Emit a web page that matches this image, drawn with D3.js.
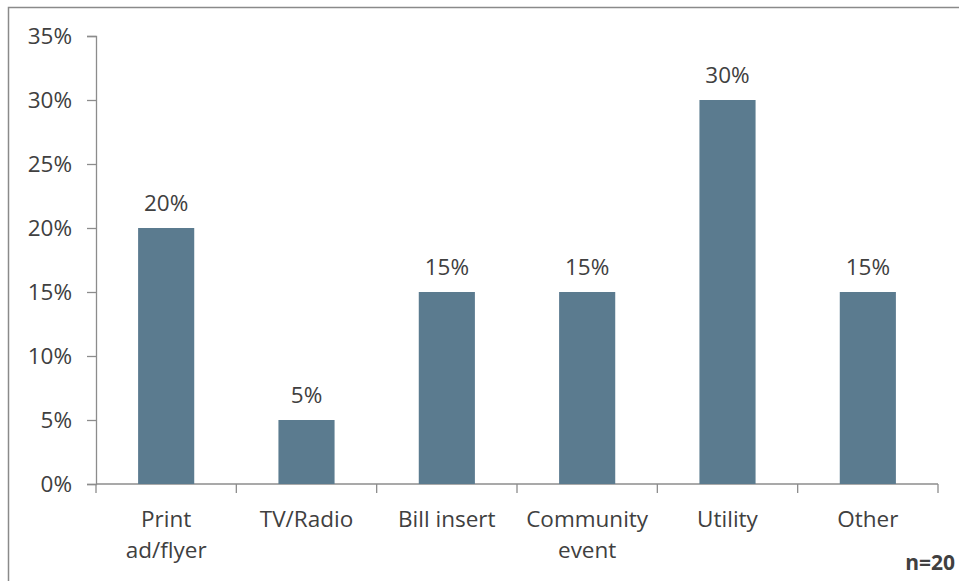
<!DOCTYPE html>
<html>
<head>
<meta charset="utf-8">
<script src="https://cdn.jsdelivr.net/npm/d3@7"></script>
<style>
  html, body { margin: 0; padding: 0; background: #fff; }
  svg { display: block; }
  text { font-family: "Open Sans", "Noto Sans", sans-serif; fill: #404040; }
</style>
</head>
<body>
<svg id="chart" width="959" height="581"></svg>
<script>
// Source of awareness, share of respondents
const categories = [["Print", "ad/flyer"], ["TV/Radio"], ["Bill insert"], ["Community", "event"], ["Utility"], ["Other"]];
const values = [0.20, 0.05, 0.15, 0.15, 0.30, 0.15];
const yTicks = [0, 0.05, 0.10, 0.15, 0.20, 0.25, 0.30, 0.35];
const sampleNote = "n=20";

const svg = d3.select("#chart");
const W = 959, H = 581;
const plot = { left: 96, right: 938, top: 36, bottom: 484 };
const barColor = "#5b7b8f";
const axisColor = "#8c8c8c";
const fontSize = 22.5;

// Outer chart frame
svg.append("rect")
  .attr("x", 8.5).attr("y", 7.5)
  .attr("width", W + 10).attr("height", H + 10)
  .attr("fill", "none").attr("stroke", "#8a8a8a").attr("stroke-width", 1.5);

const keys = categories.map((c, i) => i);
const x = d3.scaleBand().domain(keys).range([plot.left, plot.right])
  .paddingInner(0.6).paddingOuter(0.3);
const step = x.step();
const y = d3.scaleLinear().domain([0, 0.35]).range([plot.bottom, plot.top]);

// Y axis
const yAxis = d3.axisLeft(y).tickValues(yTicks).tickFormat(d3.format(".0%")).tickSize(9).tickPadding(15);
const gy = svg.append("g").attr("transform", `translate(${plot.left},0)`).call(yAxis);
gy.select(".domain").attr("stroke", axisColor).attr("stroke-width", 1.3);
gy.selectAll(".tick line").attr("stroke", axisColor).attr("stroke-width", 1.3);
gy.selectAll(".tick text").attr("font-size", fontSize).attr("font-family", "Open Sans").attr("fill", "#404040");

// X axis baseline with category boundary ticks
const boundaries = d3.range(categories.length + 1).map(i => plot.left + i * step);
svg.append("line")
  .attr("x1", plot.left).attr("x2", plot.right)
  .attr("y1", y(0)).attr("y2", y(0))
  .attr("stroke", axisColor).attr("stroke-width", 1.3);
svg.append("g").selectAll("line").data(boundaries).join("line")
  .attr("x1", d => d).attr("x2", d => d)
  .attr("y1", y(0)).attr("y2", y(0) + 9)
  .attr("stroke", axisColor).attr("stroke-width", 1.3);

// Bars
svg.append("g").selectAll("rect").data(values).join("rect")
  .attr("x", (d, i) => x(i))
  .attr("y", d => y(d))
  .attr("width", x.bandwidth())
  .attr("height", d => y(0) - y(d))
  .attr("fill", barColor);

// Value labels
svg.append("g").selectAll("text").data(values).join("text")
  .attr("x", (d, i) => x(i) + x.bandwidth() / 2)
  .attr("y", d => y(d) - 17)
  .attr("text-anchor", "middle")
  .attr("font-size", fontSize)
  .text(d => d3.format(".0%")(d));

// Category labels (wrapped)
const catG = svg.append("g").selectAll("text").data(categories).join("text")
  .attr("text-anchor", "middle")
  .attr("font-size", fontSize);
catG.each(function (lines, i) {
  const t = d3.select(this);
  lines.forEach((ln, j) => {
    t.append("tspan")
      .attr("x", x(i) + x.bandwidth() / 2)
      .attr("y", 527 + j * 31)
      .text(ln);
  });
});

// Sample size note
svg.append("text")
  .attr("x", 955).attr("y", 570)
  .attr("text-anchor", "end")
  .attr("font-size", 21)
  .attr("font-weight", "bold")
  .text(sampleNote);
</script>
</body>
</html>
